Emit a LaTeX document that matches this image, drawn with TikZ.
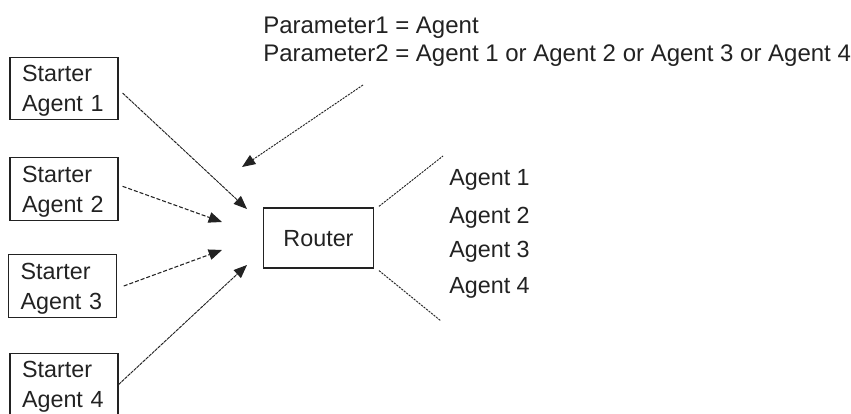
\documentclass[tikz,border=0pt]{standalone}
\usepackage{fontspec}
\setmainfont{Liberation Sans}
\usetikzlibrary{arrows.meta}
\definecolor{ink}{HTML}{222222}
\begin{document}
\begin{tikzpicture}[x=0.75pt,y=-0.75pt,
  box/.style={draw=ink,line width=0.9pt,minimum width=81pt,minimum height=47pt,
    inner xsep=9pt,inner ysep=0pt,text width=63pt,align=left,text depth=22.5pt,
    font=\fontsize{17.5}{22.5}\selectfont,text=ink},
  routerbox/.style={draw=ink,line width=0.9pt,minimum width=83pt,minimum height=45pt,
    inner sep=0pt,text depth=0pt,font=\fontsize{17.5}{22.5}\selectfont,text=ink},
  lbl/.style={anchor=base west,inner sep=0pt,font=\fontsize{17.5}{22.5}\selectfont,text=ink},
  plbl/.style={anchor=base west,inner sep=0pt,font=\fontsize{18}{22.5}\selectfont,text=ink},
  tip/.style={-{Triangle[length=10pt,width=8pt]}},
  fineline/.style={draw=ink,line width=0.7pt,dash pattern=on 2.5pt off 0.6pt},
  dashline/.style={draw=ink,line width=0.8pt,dash pattern=on 3pt off 1.5pt},
  dotline/.style={draw=ink,line width=0.7pt,dash pattern=on 1.6pt off 0.8pt}
]
\useasboundingbox (0,0) rectangle (851,414);

% starter boxes
\node[box] (s1) at (64,88.5) {Starter\\Agent 1};
\node[box] (s2) at (64,189) {Starter\\Agent 2};
\node[box] (s3) at (62.5,286) {Starter\\Agent 3};
\node[box] (s4) at (64,384.5) {Starter\\Agent 4};

% router
\node[routerbox] (router) at (318.5,238) {Router};

% parameter text
\node[plbl] (p1) at (263,33) {Parameter1 = Agent};
\node[plbl] (p2) at (263,61) {Parameter2 = Agent 1 or Agent 2 or Agent 3 or Agent 4};

% agent labels
\node[lbl] (a1) at (449,185.5) {Agent 1};
\node[lbl] (a2) at (449,223.5) {Agent 2};
\node[lbl] (a3) at (449,257) {Agent 3};
\node[lbl] (a4) at (449,293.5) {Agent 4};

% arrow end points
\coordinate (pa) at (363,85);
\coordinate (pt) at (242,167);
\coordinate (t1) at (247,209);
\coordinate (t2) at (222,222);
\coordinate (t3) at (222,250);
\coordinate (t4) at (247,265);
\coordinate (u1) at (443,156);
\coordinate (u2) at (441,321);

% connectors
\draw[fineline,tip] ([xshift=3pt,yshift=-3.4pt]s1.east) -- (t1);
\draw[dashline,tip] ([xshift=3pt,yshift=2pt]s2.east) -- (t2);
\draw[dashline,tip] ([xshift=5pt]s3.east) -- (t3);
\draw[fineline,tip] ([xshift=0pt]s4.east) -- (t4);
\draw[dotline,tip] (pa) -- (pt);

\draw[dotline] ([xshift=3.4pt,yshift=0.8pt]router.north east) -- (u1);
\draw[dotline] ([xshift=3.4pt,yshift=-1.5pt]router.south east) -- (u2);
\end{tikzpicture}
\end{document}
